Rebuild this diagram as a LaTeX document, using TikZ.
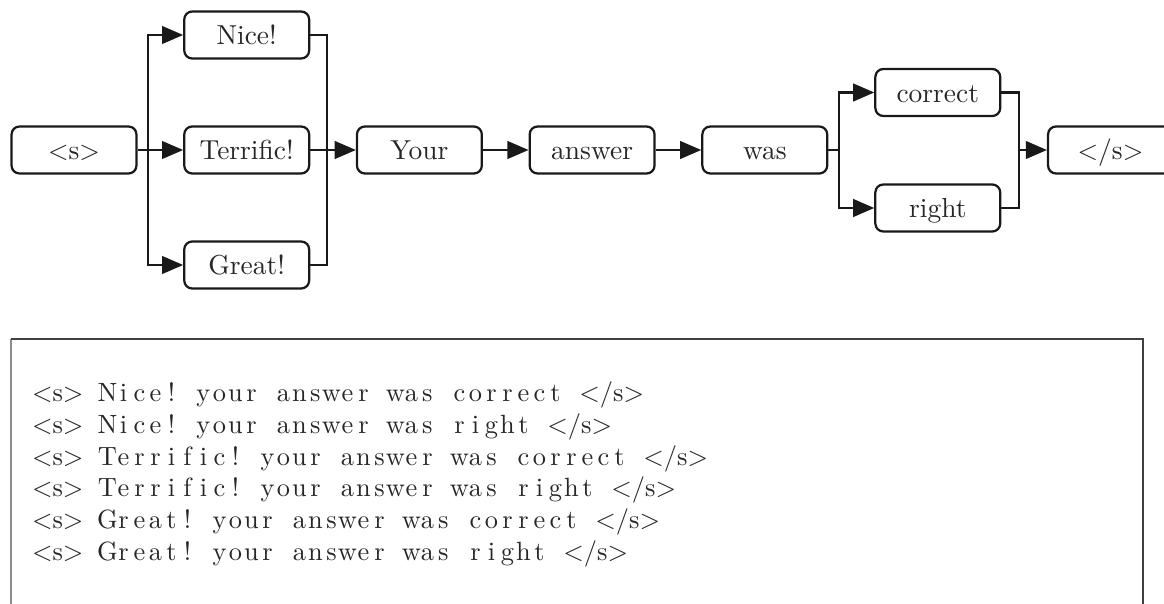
\documentclass[tikz,border=0pt]{standalone}
\usepackage{fontspec}
\usepackage{graphicx}
\usetikzlibrary{arrows.meta}

% fixed-column typesetting for the listing words
\newlength\colw
\setlength\colw{6.06pt}
\makeatletter
\def\colword#1{\colword@#1\@nil}
\def\colword@#1{\ifx#1\@nil\else\makebox[\colw][c]{#1}\expandafter\colword@\fi}
\makeatother
\newcommand\lstline[5]{$<$s$>$\hspace{\colw}\colword{#1}\hspace{\colw}\colword{#2}\hspace{\colw}\colword{#3}\hspace{\colw}\colword{#4}\hspace{\colw}\colword{#5}\hspace{\colw}$<$/s$>$}

\tikzset{
  word/.style={draw=black!90, line width=0.85pt, rounded corners=3pt,
    minimum width=47.3pt, minimum height=17.8pt, inner sep=0pt,
    text height=7.4pt, text depth=0pt,
    font=\fontsize{10.4}{12}\selectfont, text=black!85},
  link/.style={draw=black!90, line width=0.8pt},
  arr/.style={link, -{Triangle[length=8pt,width=6.7pt]}},
  lstrow/.style={anchor=base west, inner sep=0pt,
    font=\fontsize{10}{12}\selectfont, text=black!85},
}

\begin{document}
\begin{tikzpicture}[x=0.378788pt, y=-0.378788pt]
\useasboundingbox (0,0) rectangle (1164,604);

% word lattice
\node[word] (s0)   at (74,150)    {$<$s$>$};
\node[word] (nice) at (246.7,35)  {Nice!};
\node[word] (terr) at (246.7,150) {Terrific!};
\node[word] (grt)  at (246.7,265) {Great!};
\node[word] (your) at (419.4,150) {Your};
\node[word] (ans)  at (592.1,150) {answer};
\node[word] (was)  at (764.8,150) {was};
\node[word] (cor)  at (937.8,92.5){correct};
\node[word] (rgt)  at (937.8,208) {right};
\node[word] (fin)  at (1110.5,150){$<$/s$>$};

% split and join points
\coordinate (b1) at (148,150);
\coordinate (m1) at (327,150);
\coordinate (b2) at (839,150);
\coordinate (m2) at (1019,150);

\draw[link] (s0.east) -- (b1);
\draw[arr] (b1) |- (nice.west);
\draw[arr] (b1) -- (terr.west);
\draw[arr] (b1) |- (grt.west);

\draw[link] (nice.east) -| (m1);
\draw[link] (grt.east) -| (m1);
\draw[link] (terr.east) -- (m1);
\draw[arr] (m1) -- (your.west);

\draw[arr] (your.east) -- (ans.west);
\draw[arr] (ans.east) -- (was.west);

\draw[link] (was.east) -- (b2);
\draw[arr] (b2) |- (cor.west);
\draw[arr] (b2) |- (rgt.west);

\draw[link] (cor.east) -| (m2);
\draw[link] (rgt.east) -| (m2);
\draw[arr] (m2) -- (fin.west);

% listing frame
\draw[line width=0.75pt, draw=black!45] (11,339.3) -- (11,606);
\draw[line width=0.75pt, draw=black!75] (11,339.3) -- (1143,339.3) -- (1143,606);

% listing rows
\node[lstrow] (l1) at (31.5,401.7) {\lstline{Nice!}{your}{answer}{was}{correct}};
\node[lstrow] (l2) at (31.5,433.4) {\lstline{Nice!}{your}{answer}{was}{right}};
\node[lstrow] (l3) at (31.5,465.0) {\lstline{Terrific!}{your}{answer}{was}{correct}};
\node[lstrow] (l4) at (31.5,496.7) {\lstline{Terrific!}{your}{answer}{was}{right}};
\node[lstrow] (l5) at (31.5,528.4) {\lstline{Great!}{your}{answer}{was}{correct}};
\node[lstrow] (l6) at (31.5,560.0) {\lstline{Great!}{your}{answer}{was}{right}};
\end{tikzpicture}
\end{document}
